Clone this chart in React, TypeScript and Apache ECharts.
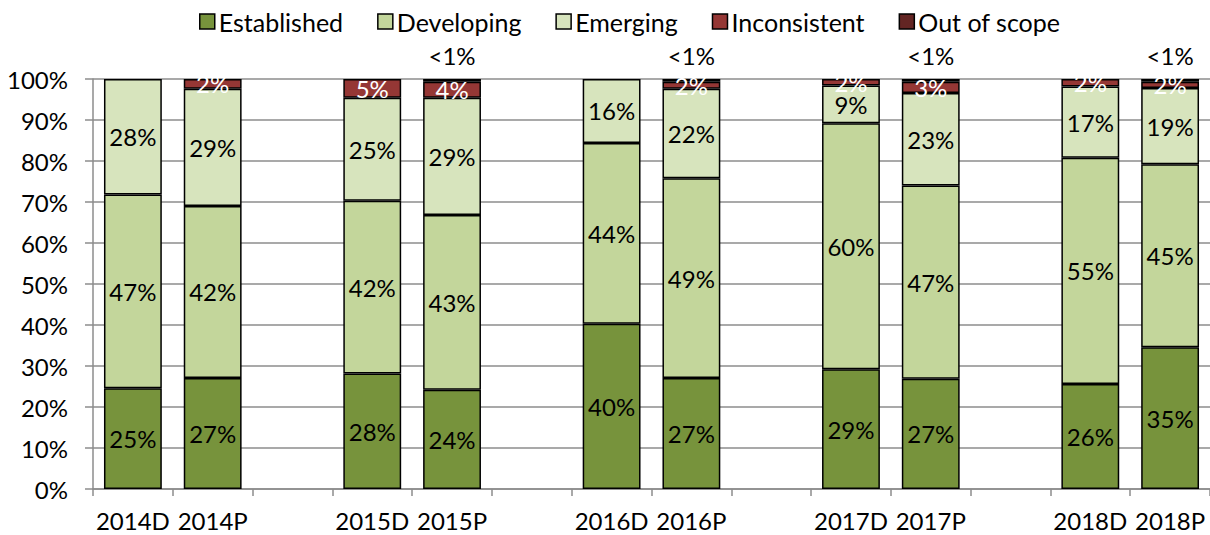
import React, { useEffect, useRef } from "react";
import * as echarts from "echarts";

const categories = ["2014D", "2014P", " ", "2015D", "2015P", "  ", "2016D", "2016P", "   ", "2017D", "2017P", "    ", "2018D", "2018P"];
const established = [24.6, 27.1, null, 28.2, 24.2, null, 40.3, 27.1, null, 29.2, 26.9, null, 25.6, 34.6];
const developing = [47.2, 41.9, null, 42.1, 42.6, null, 44.1, 48.7, null, 60.0, 47.1, null, 55.2, 44.6];
const emerging = [28.2, 28.6, null, 25.1, 28.6, null, 15.6, 21.8, null, 9.2, 22.6, null, 17.4, 18.6];
const inconsistent = [null, 2.4, null, 4.6, 3.9, null, null, 1.7, null, 1.6, 2.7, null, 1.8, 1.5];
const outOfScope = [null, null, null, null, 0.7, null, null, 0.7, null, null, 0.7, null, null, 0.7];
const yTicks = [0, 10, 20, 30, 40, 50, 60, 70, 80, 90, 100];

const FONT = "Lato";
const FS = 24;
const GREY = "#8c8c8c";

export default function App() {
  const ref = useRef<HTMLDivElement>(null);
  useEffect(() => {
    if (!ref.current) return;
    const chart = echarts.init(ref.current, undefined, { renderer: "svg" });
    const pct = (p: any) => (p.value == null ? "" : Math.round(p.value) + "%");
    const mk = (name: string, data: any[], color: string, labelColor: string, extra: any = {}) => ({
      name,
      type: "bar",
      stack: "total",
      data,
      barCategoryGap: "27.5%",
      itemStyle: { color, borderColor: "#000", borderWidth: 1.5 },
      label: {
        show: true,
        position: "inside",
        color: labelColor,
        fontFamily: FONT,
        fontSize: FS,
        formatter: pct,
      },
      ...extra,
    });
    chart.setOption({
      animation: false,
      backgroundColor: "#fff",
      textStyle: { fontFamily: FONT },
      legend: {
        top: 4,
        left: 194,
        itemWidth: 15,
        itemHeight: 15,
        itemGap: 34,
        textStyle: { fontFamily: FONT, fontSize: 25, color: "#000", padding: [0, 0, 0, -1] },
        data: ["Established", "Developing", "Emerging", "Inconsistent", "Out of scope"].map((n) => ({
          name: n,
          icon: "rect",
          itemStyle: { borderColor: "#000", borderWidth: 1.5 },
        })),
      },
      grid: { left: 93, right: -3, top: 79, bottom: 46, containLabel: false },
      xAxis: {
        type: "category",
        data: categories,
        axisLine: { show: true, lineStyle: { color: GREY, width: 1.5 } },
        axisTick: { show: true, interval: 0, length: 7, lineStyle: { color: GREY, width: 1.5 } },
        axisLabel: { interval: 0, margin: 19, color: "#000", fontFamily: FONT, fontSize: FS },
      },
      yAxis: {
        type: "value",
        min: yTicks[0],
        max: yTicks[yTicks.length - 1],
        interval: 10,
        axisLine: { show: true, lineStyle: { color: GREY, width: 1.5 } },
        axisTick: { show: true, length: 8, lineStyle: { color: GREY, width: 1.5 } },
        splitLine: { show: true, lineStyle: { color: GREY, width: 1.5 } },
        axisLabel: { margin: 25, color: "#000", fontFamily: FONT, fontSize: FS, formatter: "{value}%" },
      },
      series: [
        mk("Established", established, "#77933C", "#000"),
        mk("Developing", developing, "#C3D69B", "#000"),
        mk("Emerging", emerging, "#D7E4BD", "#000"),
        mk("Inconsistent", inconsistent, "#953735", "#fff"),
        mk("Out of scope", outOfScope, "#632523", "#000", {
          label: {
            show: true,
            position: "top",
            distance: 12,
            color: "#000",
            fontFamily: FONT,
            fontSize: FS,
            formatter: (p: any) => (p.value == null ? "" : "<1%"),
          },
        }),
      ],
    });
    return () => chart.dispose();
  }, []);
  return <div ref={ref} style={{ position: "absolute", left: 0, top: 0, width: 1210, height: 535 }} />;
}
